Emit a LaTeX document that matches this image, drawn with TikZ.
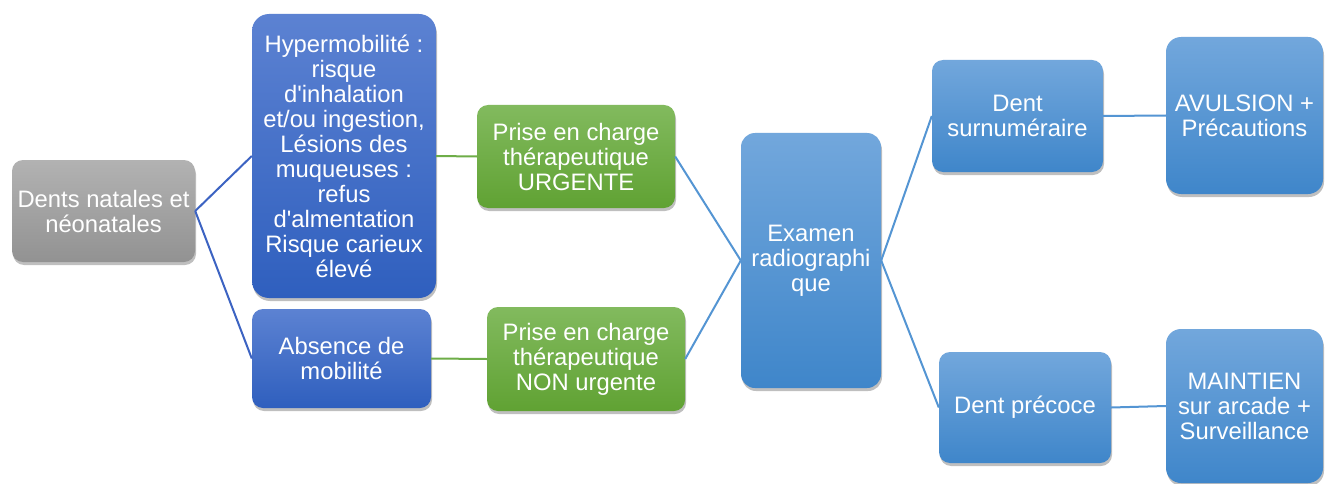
\documentclass[tikz,border=0pt]{standalone}
\usepackage{fontspec}
\setmainfont{Liberation Sans}[Ligatures=TeXOff]
\usetikzlibrary{shadows}
\definecolor{grayT}{HTML}{B2B2B2}
\definecolor{grayB}{HTML}{929292}
\definecolor{dblueT}{HTML}{5C82D2}
\definecolor{dblueB}{HTML}{2F5FBE}
\definecolor{greenT}{HTML}{82BA5E}
\definecolor{greenB}{HTML}{60A233}
\definecolor{lblueT}{HTML}{72A7DC}
\definecolor{lblueB}{HTML}{3F86CA}
\definecolor{dblueL}{HTML}{3C63C2}
\definecolor{greenL}{HTML}{6EAD48}
\definecolor{lblueL}{HTML}{5495D3}
\tikzset{
  box/.style={rectangle, rounded corners=11pt, draw=none, inner sep=0pt,
    text=white, align=center, font=\fontsize{23.8}{25}\selectfont,
    drop shadow={shadow xshift=1pt, shadow yshift=-3pt, opacity=0.25, fill=black}},
  graybox/.style={box, top color=grayT, bottom color=grayB},
  dbluebox/.style={box, top color=dblueT, bottom color=dblueB},
  greenbox/.style={box, top color=greenT, bottom color=greenB},
  lbluebox/.style={box, top color=lblueT, bottom color=lblueB},
  link/.style={line width=2pt},
}
\begin{document}
\begin{tikzpicture}[x=1pt,y=-1pt]
\useasboundingbox[fill=white] (0,0) rectangle (1327,484);
\node[graybox, minimum width=183pt, minimum height=102pt] (dents) at (103.5,211) {Dents natales et\\néonatales};
\node[dbluebox, rounded corners=17pt, minimum width=184pt, minimum height=284pt] (hyper) at (344,156) {Hypermobilité :\\risque\\d'inhalation\\et/ou ingestion,\\Lésions des\\muqueuses :\\refus\\d'almentation\\Risque carieux\\élevé};
\node[dbluebox, minimum width=179pt, minimum height=99pt] (absence) at (341.5,358.5) {Absence de\\mobilité};
\node[greenbox, minimum width=198pt, minimum height=103pt] (urgent) at (576,156.5) {Prise en charge\\thérapeutique\\URGENTE};
\node[greenbox, minimum width=198pt, minimum height=104pt] (nonurg) at (586,359) {Prise en charge\\thérapeutique\\NON urgente};
\node[lbluebox, rounded corners=14pt, minimum width=140pt, minimum height=255pt] (examen) at (811,260.5) {Examen\\radiographi\\que};
\node[lbluebox, minimum width=171pt, minimum height=112pt] (surnum) at (1017.5,116) {Dent\\surnuméraire};
\node[lbluebox, rounded corners=15pt, minimum width=157pt, minimum height=157pt] (avul) at (1244.5,115.5) {AVULSION +\\Précautions};
\node[lbluebox, minimum width=172pt, minimum height=111pt] (precoce) at (1025,407.5) {Dent précoce};
\node[lbluebox, rounded corners=15pt, minimum width=157pt, minimum height=154pt] (maint) at (1244.5,406) {MAINTIEN\\sur arcade +\\Surveillance};
\draw[link, dblueL] (dents.east) -- (hyper.west);
\draw[link, dblueL] (dents.east) -- (absence.west);
\draw[link, greenL] (hyper.east) -- (urgent.west);
\draw[link, greenL] (absence.east) -- (nonurg.west);
\draw[link, lblueL] (urgent.east) -- (examen.west);
\draw[link, lblueL] (nonurg.east) -- (examen.west);
\draw[link, lblueL] (examen.east) -- (surnum.west);
\draw[link, lblueL] (examen.east) -- (precoce.west);
\draw[link, lblueL] (surnum.east) -- (avul.west);
\draw[link, lblueL] (precoce.east) -- (maint.west);
\end{tikzpicture}
\end{document}
